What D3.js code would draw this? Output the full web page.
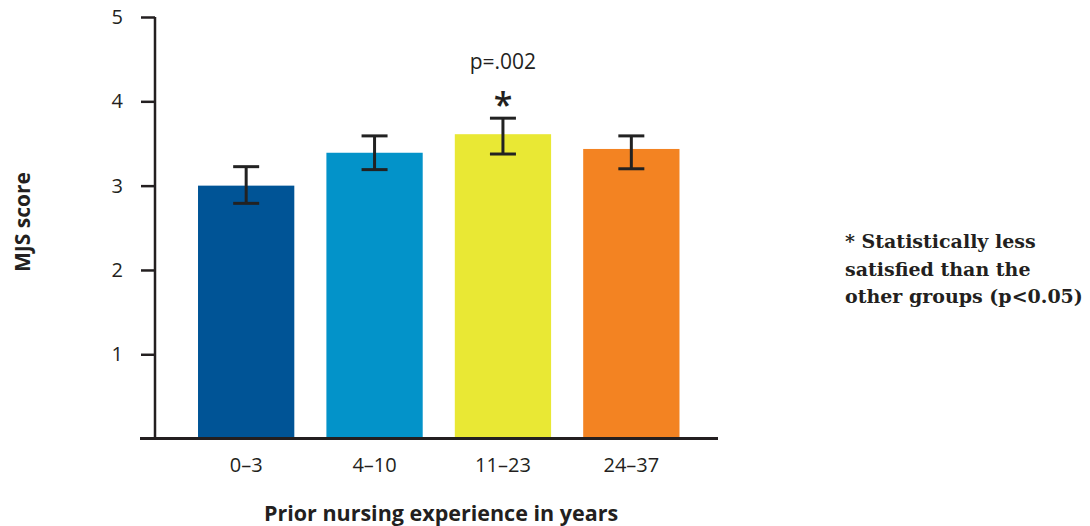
<!DOCTYPE html>
<html>
<head>
<meta charset="utf-8">
<script src="https://cdn.jsdelivr.net/npm/d3@7"></script>
<style>
  html, body { margin: 0; padding: 0; background: #fff; }
  svg { display: block; }
</style>
</head>
<body>
<svg id="chart" width="1090" height="526"></svg>
<script>
// Mean MJS score by prior nursing experience, with error bar limits
const categories = ["0–3", "4–10", "11–23", "24–37"];
const means = [3.0, 3.39, 3.61, 3.435];
const errLow = [2.79, 3.19, 3.375, 3.20];
const errHigh = [3.225, 3.59, 3.80, 3.59];
const barColors = ["#005496", "#0393c9", "#e9e834", "#f38322"];
const yTicks = [1, 2, 3, 4, 5];
const significant = [false, false, true, false];
const pLabel = "p=.002";
const noteLines = ["* Statistically less", "satisfied than the", "other groups (p<0.05)"];

const svg = d3.select("#chart");
const ink = "#231f20";
const sans = "'Open Sans', 'Noto Sans', sans-serif";

const y = d3.scaleLinear().domain([0, 5]).range([438.6, 17]);
const x = d3.scaleBand().domain(categories).range([159.5, 718])
  .paddingInner(0.25).paddingOuter(0.3);

const axisX = 155;

// y axis: vertical line plus left-pointing ticks
const yAxis = svg.append("g").attr("transform", `translate(${axisX},0)`)
  .call(d3.axisLeft(y).tickValues(yTicks).tickFormat(d3.format("d"))
    .tickSize(14).tickPadding(18).tickSizeOuter(0));
yAxis.select(".domain").remove();
yAxis.append("line").attr("x1", 0).attr("x2", 0)
  .attr("y1", y(5)).attr("y2", y(0))
  .attr("stroke", ink).attr("stroke-width", 2.5);
yAxis.selectAll(".tick line").attr("stroke", ink).attr("stroke-width", 2.5);
yAxis.selectAll(".tick text").attr("fill", ink)
  .style("font-family", sans).style("font-size", "20px");

// bars
svg.append("g").selectAll("rect").data(categories).join("rect")
  .attr("x", d => x(d))
  .attr("width", x.bandwidth())
  .attr("y", (d, i) => y(means[i]))
  .attr("height", (d, i) => y(0) - y(means[i]))
  .attr("fill", (d, i) => barColors[i]);

// x axis baseline and category labels
const xAxis = svg.append("g").attr("transform", `translate(0,${y(0)})`)
  .call(d3.axisBottom(x).tickSize(0).tickPadding(19));
xAxis.select(".domain").remove();
xAxis.append("line").attr("x1", 140).attr("x2", 718)
  .attr("y1", 0).attr("y2", 0)
  .attr("stroke", ink).attr("stroke-width", 3);
xAxis.selectAll(".tick text").attr("fill", ink)
  .style("font-family", sans).style("font-size", "20px");

// error bars
const capHalf = 13;
const eb = svg.append("g").attr("stroke", "#222").attr("stroke-width", 3);
categories.forEach((c, i) => {
  const cx = x(c) + x.bandwidth() / 2;
  eb.append("line").attr("x1", cx).attr("x2", cx)
    .attr("y1", y(errHigh[i])).attr("y2", y(errLow[i]));
  eb.append("line").attr("x1", cx - capHalf).attr("x2", cx + capHalf)
    .attr("y1", y(errHigh[i])).attr("y2", y(errHigh[i]));
  eb.append("line").attr("x1", cx - capHalf).attr("x2", cx + capHalf)
    .attr("y1", y(errLow[i])).attr("y2", y(errLow[i]));
});

// significance markers
categories.forEach((c, i) => {
  if (!significant[i]) return;
  const cx = x(c) + x.bandwidth() / 2;
  svg.append("text").attr("x", cx).attr("y", y(errHigh[i]) - 1)
    .attr("text-anchor", "middle").attr("fill", ink)
    .style("font-family", sans).style("font-size", "34px").style("font-weight", "600")
    .text("*");
  svg.append("text").attr("x", cx).attr("y", 69)
    .attr("text-anchor", "middle").attr("fill", ink)
    .style("font-family", sans).style("font-size", "21px")
    .text(pLabel);
});

// axis titles
svg.append("text").attr("x", 441).attr("y", 521)
  .attr("text-anchor", "middle").attr("fill", ink)
  .style("font-family", sans).style("font-size", "21.5px").style("font-weight", "700")
  .text("Prior nursing experience in years");

svg.append("text").attr("transform", "translate(30,222) rotate(-90)")
  .attr("text-anchor", "middle").attr("fill", ink)
  .style("font-family", sans).style("font-size", "21px").style("font-weight", "700")
  .text("MJS score");

// footnote
svg.append("g").selectAll("text").data(noteLines).join("text")
  .attr("x", 845).attr("y", (d, i) => 248 + i * 27.5)
  .attr("fill", ink)
  .style("font-family", "'DejaVu Serif', serif").style("font-size", "19px").style("font-weight", "700")
  .text(d => d);
</script>
</body>
</html>
